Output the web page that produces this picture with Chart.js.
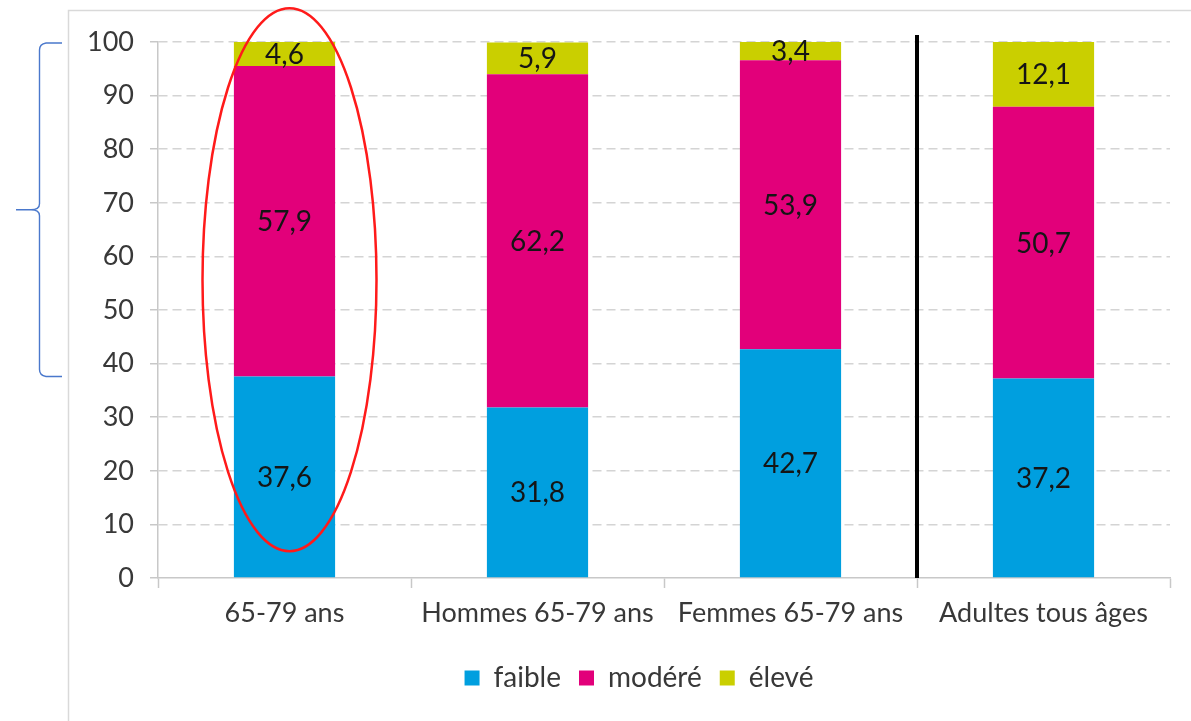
<!DOCTYPE html>
<html lang="fr">
<head>
<meta charset="utf-8">
<title>Niveau d'activité physique</title>
<script src="https://cdn.jsdelivr.net/npm/chart.js@4/dist/chart.umd.min.js"></script>
<style>
  html, body { margin: 0; padding: 0; background: #ffffff; }
  #wrap { width: 1191px; height: 721px; position: relative; }
</style>
</head>
<body>
<div id="wrap"><canvas id="chart" width="1191" height="721"></canvas></div>
<script>
// Categories and series (%)
const categories = ['65-79 ans', 'Hommes 65-79 ans', 'Femmes 65-79 ans', 'Adultes tous âges'];
const faible = [37.6, 31.8, 42.7, 37.2];
const modere = [57.9, 62.2, 53.9, 50.7];
const eleve  = [4.6, 5.9, 3.4, 12.1];
const yTicks = [0, 10, 20, 30, 40, 50, 60, 70, 80, 90, 100];

const FONT = 'Lato, "Open Sans", sans-serif';
const TEXT = '#383838';
const CHART_BOTTOM = 578;
const PAD_BOTTOM = 19;
const LEGEND_SHIFT = 20;

const fmt = v => v.toFixed(1).replace('.', ',');

// Outer frame of the chart object; legend nudged to the centre of the frame
const framePlugin = {
  id: 'frame',
  afterLayout(chart) {
    if (chart.legend) {
      chart.legend.left += LEGEND_SHIFT;
      chart.legend.right += LEGEND_SHIFT;
    }
  },
  beforeDraw(chart) {
    const c = chart.ctx;
    c.save();
    c.fillStyle = '#ffffff';
    c.fillRect(0, 0, chart.width, chart.height);
    c.strokeStyle = '#d9d9d9';
    c.lineWidth = 1.5;
    c.beginPath();
    c.moveTo(68.5, chart.height);
    c.lineTo(68.5, 10.5);
    c.lineTo(chart.width, 10.5);
    c.stroke();
    c.restore();
  }
};

// Values written in the middle of each segment
const labelPlugin = {
  id: 'segLabels',
  afterDatasetsDraw(chart) {
    const c = chart.ctx;
    c.save();
    c.font = '28px ' + FONT;
    c.fillStyle = '#151515';
    c.textAlign = 'center';
    c.textBaseline = 'middle';
    chart.data.datasets.forEach((ds, i) => {
      const meta = chart.getDatasetMeta(i);
      meta.data.forEach((bar, j) => {
        const top = Math.max(bar.y, chart.chartArea.top);
        c.fillText(fmt(ds.data[j]), bar.x, (top + bar.base) / 2 + 1);
      });
    });
    c.restore();
  }
};

// Separator, highlight ellipse and brace
const markPlugin = {
  id: 'marks',
  afterDraw(chart) {
    const c = chart.ctx;
    const xs = chart.scales.x, ys = chart.scales.y;
    c.save();

    // black separator between the 65-79 groups and all adults
    const sepX = (xs.getPixelForValue(2) + xs.getPixelForValue(3)) / 2;
    c.strokeStyle = '#000000';
    c.lineWidth = 4;
    c.beginPath();
    c.moveTo(sepX, ys.getPixelForValue(101.3));
    c.lineTo(sepX, ys.getPixelForValue(0));
    c.stroke();

    // red ellipse around the 65-79 ans bar
    const yTop = ys.getPixelForValue(106.3), yBot = ys.getPixelForValue(5);
    const cx = xs.getPixelForValue(0) + 5;
    c.strokeStyle = '#ff1a1a';
    c.lineWidth = 2.5;
    c.beginPath();
    c.ellipse(cx, (yTop + yBot) / 2, 87, (yBot - yTop) / 2, 0, 0, Math.PI * 2);
    c.stroke();

    // blue brace spanning modéré + élevé of the first bar
    const bTop = ys.getPixelForValue(100) + 1;
    const bBot = ys.getPixelForValue(faible[0]);
    const mid = (bTop + bBot) / 2;
    const bx = 39.5;
    c.strokeStyle = '#4a78cc';
    c.lineWidth = 1.4;
    c.beginPath();
    c.moveTo(62, bTop);
    c.lineTo(46, bTop);
    c.quadraticCurveTo(bx, bTop + 1, bx, bTop + 7);
    c.lineTo(bx, mid - 6);
    c.quadraticCurveTo(bx, mid, 31, mid);
    c.lineTo(16, mid);
    c.moveTo(31, mid);
    c.quadraticCurveTo(bx, mid, bx, mid + 6);
    c.lineTo(bx, bBot - 7);
    c.quadraticCurveTo(bx, bBot - 1, 46, bBot);
    c.lineTo(62, bBot);
    c.stroke();

    c.restore();
  }
};

new Chart(document.getElementById('chart'), {
  type: 'bar',
  data: {
    labels: categories,
    datasets: [
      { label: 'faible', data: faible, backgroundColor: '#009fdf' },
      { label: 'modéré', data: modere, backgroundColor: '#e2007a' },
      { label: 'élevé',  data: eleve,  backgroundColor: '#cacf00' }
    ]
  },
  options: {
    responsive: false,
    animation: false,
    devicePixelRatio: 1,
    layout: { padding: { left: 68, top: 42, right: 21, bottom: PAD_BOTTOM } },
    datasets: { bar: { barPercentage: 0.4, categoryPercentage: 1, borderWidth: 0 } },
    plugins: {
      tooltip: { enabled: false },
      legend: {
        position: 'bottom',
        labels: {
          font: { family: FONT, size: 28 },
          color: TEXT,
          boxWidth: 15,
          boxHeight: 15,
          padding: 18
        }
      }
    },
    scales: {
      x: {
        stacked: true,
        offset: true,
        grid: {
          offset: true,
          drawOnChartArea: false,
          drawTicks: true,
          tickLength: 10,
          tickColor: '#c8c8c8',
          tickWidth: 1.5
        },
        border: { color: '#c8c8c8', width: 1.5 },
        ticks: { font: { family: FONT, size: 27 }, color: TEXT, padding: 9, maxRotation: 0 },
        afterFit(scale) {
          const lh = scale.chart.legend ? scale.chart.legend.height : 0;
          scale.height = scale.chart.height - PAD_BOTTOM - lh - CHART_BOTTOM;
        }
      },
      y: {
        stacked: true,
        min: 0,
        max: 100,
        afterBuildTicks(scale) { scale.ticks = yTicks.map(v => ({ value: v })); },
        grid: {
          color: ctx => (ctx.tick && ctx.tick.value === 0 ? 'rgba(0,0,0,0)' : '#d4d4d4'),
          lineWidth: 1.5,
          tickColor: '#c8c8c8',
          tickLength: 8,
          tickWidth: 1.5
        },
        border: { color: '#c8c8c8', width: 1.5, dash: [9, 5], display: true },
        ticks: { font: { family: FONT, size: 27 }, color: TEXT, padding: 16 },
        afterFit(scale) { scale.width = 90; }
      }
    }
  },
  plugins: [framePlugin, labelPlugin, markPlugin]
});
</script>
</body>
</html>
